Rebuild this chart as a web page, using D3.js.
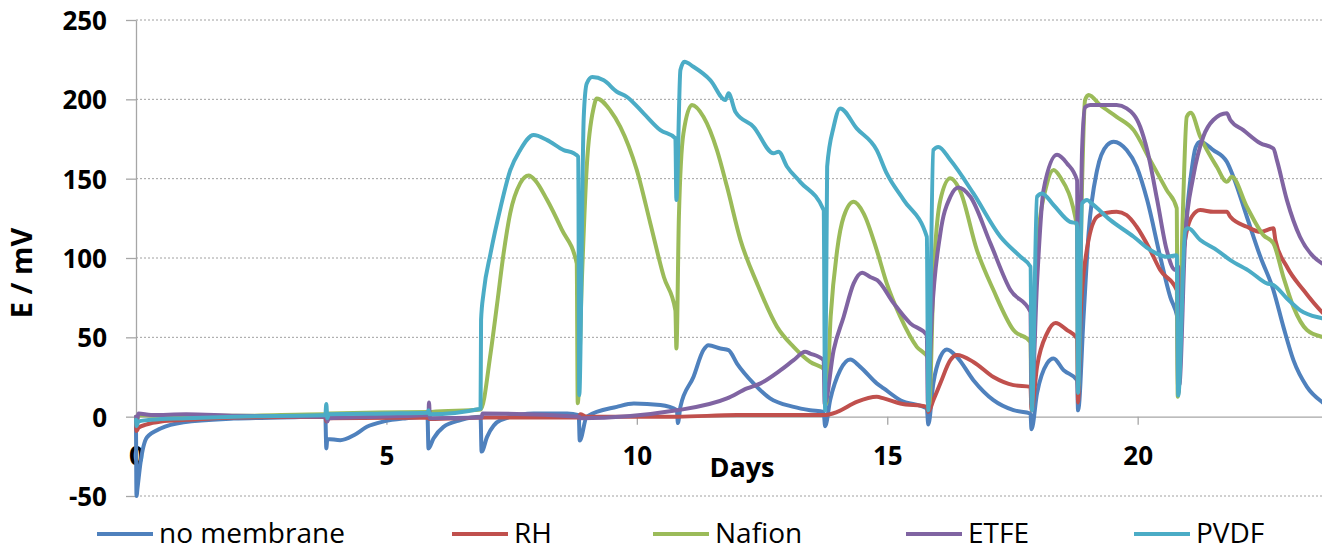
<!DOCTYPE html>
<html>
<head>
<meta charset="utf-8">
<script src="https://cdn.jsdelivr.net/npm/d3@7"></script>
<style>
body { margin: 0; background: #fff; }
svg { display: block; font-family: "Open Sans", sans-serif; }
</style>
</head>
<body>
<svg id="chart" width="1322" height="550"></svg>
<script>
// [day, E in mV]
const noMembrane = [[0,-2],[0.01,-50],[0.03,-45],[0.09,-29],[0.22,-13],[0.49,-7.5],[0.95,-3.5],[1.95,-1.2],[3.28,-0.2],[3.78,0.5],[3.8,-20],[3.82,-14],[4.08,-14.8],[4.35,-11.7],[4.61,-6.4],[4.95,-3],[5.4,-1],[5.82,0],[5.84,-20],[5.94,-13.7],[6.14,-6.4],[6.48,-2.2],[6.88,-0.1],[6.9,-22],[7.01,-12.7],[7.28,-2.2],[7.94,2],[8.61,2],[8.84,1],[8.86,-15],[9.0,0],[9.6,6.2],[9.94,8.3],[10.47,7.3],[10.8,4.1],[10.82,-4],[10.87,6.2],[11.13,25],[11.33,42],[11.43,45],[11.67,43],[11.83,42],[12.0,33.5],[12.33,21],[12.66,11.5],[13.13,6.2],[13.46,4.1],[13.73,3],[13.76,-6],[13.86,10.4],[14.06,29.3],[14.26,36],[14.46,31.4],[14.79,21],[14.93,17.8],[15.26,10.4],[15.79,5.2],[15.82,-5],[15.92,21],[16.06,37.7],[16.19,42.4],[16.39,37.7],[16.72,23],[17.12,10.4],[17.52,4.1],[17.86,2],[17.88,-8],[17.99,14.6],[18.19,33.5],[18.32,36.7],[18.52,29.3],[18.79,23],[18.81,4],[18.92,63],[19.02,115.5],[19.19,155.4],[19.39,171.2],[19.52,173.3],[19.78,168],[19.98,157.5],[20.19,136.5],[20.45,100.8],[20.65,75.5],[20.79,63],[20.82,58],[20.92,105],[21.06,151.2],[21.16,170],[21.25,173.3],[21.51,168],[21.78,160.6],[21.91,151.2],[22.18,126],[22.45,100.8],[22.71,79.8],[22.91,56.6],[23.11,35.6],[23.38,18.8],[23.68,9.3],[24,4]]
const rh = [[0,-1],[0.01,-9],[0.05,-7],[0.2,-5],[0.5,-3],[1,-2],[2,-0.5],[3.78,0],[3.8,-3],[3.85,-1],[5.84,-0.5],[5.86,-1.5],[7,-0.5],[8.85,-0.5],[8.87,1.5],[9,0],[10.8,0],[12,1],[13.26,1],[13.73,1],[14.0,3],[14.39,9.3],[14.79,12.5],[14.93,11.5],[15.26,8.3],[15.79,6.2],[15.82,3],[15.92,10.4],[16.06,21],[16.26,35.6],[16.39,38.8],[16.72,34.5],[17.12,25],[17.52,19.9],[17.86,18.8],[17.88,4],[17.99,31.4],[18.19,52.5],[18.36,59.1],[18.59,54.6],[18.79,49.3],[18.81,9],[18.86,63],[18.96,100],[19.19,126],[19.39,128.5],[19.58,129.1],[19.78,127],[19.98,119.7],[20.25,105],[20.45,92.4],[20.78,79.8],[20.81,15],[20.92,105],[21.08,126],[21.25,130.2],[21.51,129.1],[21.78,129.1],[21.85,126],[22.18,119.7],[22.45,116.5],[22.71,118.7],[22.75,111.3],[22.98,94.5],[23.31,79.8],[23.68,66],[24,58]]
const nafion = [[0,0],[0.02,-3],[0.05,1],[0.5,0.5],[2,0.5],[3.8,1.5],[3.82,-1],[3.85,2],[5.84,3],[5.86,1],[5.9,3],[6.88,4.5],[7.08,40],[7.21,71],[7.34,103],[7.47,128],[7.67,147],[7.84,152],[7.97,149],[8.21,136.5],[8.5,118],[8.8,96.6],[8.82,8.5],[8.9,84],[9.0,157.5],[9.14,195],[9.2,200.6],[9.47,193],[9.67,182.7],[10.0,155.4],[10.27,121.8],[10.54,88],[10.77,67],[10.79,43],[10.84,126],[10.93,178.5],[11.1,196.4],[11.33,189],[11.6,168],[11.8,145],[12.07,111.3],[12.4,84],[12.8,56.6],[13.13,44],[13.46,34.5],[13.76,29.3],[13.78,8],[13.87,63],[14.0,105],[14.13,126],[14.33,135.4],[14.53,128],[14.79,105],[14.99,84],[15.26,63],[15.59,44],[15.82,36.7],[15.84,8],[15.92,84],[16.06,136.5],[16.26,150.2],[16.45,142.8],[16.79,105],[17.12,79.8],[17.52,54.6],[17.86,47],[17.88,8],[17.99,105],[18.19,147],[18.32,155.4],[18.45,151.2],[18.79,119.7],[18.81,19],[18.89,147],[18.95,199.6],[19.02,202.7],[19.25,196.4],[19.58,189],[19.92,180.6],[20.25,161.7],[20.58,142.8],[20.78,131.3],[20.8,12.5],[20.9,126],[20.98,189],[21.06,191.5],[21.25,176.4],[21.58,157.5],[21.78,148],[21.88,151.2],[22.18,132.3],[22.51,114.4],[22.71,109.2],[22.91,88],[23.11,69.2],[23.38,54.6],[23.68,50.3],[24,49]]
const etfe = [[0,0],[0.02,-2],[0.05,2],[0.3,1],[1,1.5],[2,0.5],[3.8,0],[3.82,-3],[3.85,-1],[5.84,1],[5.85,9],[5.87,-1],[6.9,-0.5],[6.92,2],[8.85,0],[8.87,-1],[10.8,4],[11.8,11.5],[12.2,17.8],[12.47,21],[12.87,29.3],[13.13,35.6],[13.36,40.9],[13.46,39.8],[13.73,35.6],[13.75,8],[13.93,42],[14.13,63],[14.33,84],[14.5,90.7],[14.66,88],[14.8,86],[15.13,71.4],[15.46,58.8],[15.79,51.4],[15.81,8],[15.89,63],[16.06,115.5],[16.26,138.6],[16.42,144.5],[16.66,138.6],[17.06,109.2],[17.46,79.8],[17.86,66],[17.88,8],[17.99,84],[18.12,142.8],[18.39,165],[18.59,159.6],[18.79,149],[18.81,20],[18.89,168],[18.95,195],[19.05,196.4],[19.58,196.4],[19.78,194.3],[20.05,182.7],[20.19,168],[20.39,136.5],[20.58,105],[20.75,92.4],[20.81,94.5],[20.83,20],[20.95,113.4],[21.11,151.2],[21.31,176.4],[21.51,187],[21.78,191.2],[21.85,187],[22.11,180.6],[22.45,172.3],[22.71,169],[22.78,161.7],[22.98,136.5],[23.24,113.4],[23.51,100.8],[23.68,96.6],[24,93]]
const pvdf = [[0,-2],[0.01,-6],[0.05,-3],[0.3,-2],[1,-1],[2,0],[3.78,1],[3.8,8],[3.82,-1],[3.85,1.5],[5.0,2],[5.82,2.5],[5.84,4],[5.86,1.5],[6.88,5],[6.89,61],[6.94,78],[7.08,103],[7.28,132],[7.47,155],[7.67,168],[7.94,177.5],[8.21,174.3],[8.54,168],[8.74,166],[8.83,163.8],[8.85,13.5],[8.94,189],[9.0,210],[9.11,214],[9.34,212],[9.6,204.8],[9.8,201.6],[10.14,191],[10.47,180.6],[10.77,175.4],[10.79,136.5],[10.87,218.5],[10.95,223.7],[11.13,220.5],[11.47,212],[11.77,199.6],[11.83,203.8],[11.97,192],[12.33,182.7],[12.73,166],[12.83,167],[13.0,157.5],[13.26,148],[13.73,130.2],[13.76,4],[13.8,157.5],[13.93,182.7],[14.06,194.3],[14.39,181.7],[14.79,168],[14.99,153.3],[15.33,136.5],[15.79,113.4],[15.82,4],[15.92,168],[16.02,170],[16.26,161.7],[16.72,140.7],[17.26,113.4],[17.66,100.8],[17.86,94.5],[17.89,4],[17.99,138.6],[18.09,140.7],[18.32,133.4],[18.65,122.8],[18.79,121.8],[18.81,15],[18.89,134.4],[18.99,136.5],[19.08,134.4],[19.45,124],[19.92,113.4],[20.25,105],[20.58,100.8],[20.78,101.8],[20.81,13.5],[20.95,117.6],[21.01,118.7],[21.25,111.3],[21.58,105],[21.85,98.7],[22.25,91.3],[22.58,84],[22.71,83],[22.98,74.5],[23.24,67.2],[23.68,62],[24,60]]

const seriesNames = ["no membrane", "RH", "Nafion", "ETFE", "PVDF"]
const seriesData = [noMembrane, rh, nafion, etfe, pvdf]
const seriesColors = ["#4F81BD", "#C0504D", "#9BBB59", "#8064A2", "#4BACC6"]
const xTicks = [0, 5, 10, 15, 20]
const yTicks = [-50, 0, 50, 100, 150, 200, 250]

const svg = d3.select("#chart")
const xScale = d3.scaleLinear().domain([0, 24]).range([136, 1338])
const yScale = d3.scaleLinear().domain([-50, 250]).range([496, 20])
const axisColor = "#a6a6a6"

// dotted gridlines
svg.append("g")
	.selectAll("line")
	.data(yTicks.filter(d => d !== 0))
	.enter().append("line")
		.attr("x1", xScale(0))
		.attr("x2", 1322)
		.attr("y1", d => yScale(d))
		.attr("y2", d => yScale(d))
		.attr("stroke", "#a0a0a0")
		.attr("stroke-width", 1)
		.attr("stroke-dasharray", "2,2")

const yAxis = svg.append("g")
	.attr("transform", `translate(${xScale(0)}, 0)`)
	.call(d3.axisLeft(yScale).tickValues(yTicks).tickFormat(d => String(d)).tickSize(10).tickSizeOuter(0).tickPadding(19))
const xAxis = svg.append("g")
	.attr("transform", `translate(0, ${yScale(0)})`)
	.call(d3.axisBottom(xScale).tickValues(xTicks).tickFormat(d => String(d)).tickSize(8).tickSizeOuter(0).tickPadding(22))

for (const axis of [yAxis, xAxis]) {
	axis.select(".domain").attr("stroke", axisColor).attr("stroke-width", 1.3)
	axis.selectAll(".tick line").attr("stroke", axisColor).attr("stroke-width", 1.3)
	axis.selectAll(".tick text")
		.attr("fill", "#000")
		.attr("font-family", "Open Sans")
		.attr("font-weight", "bold")
		.attr("font-size", 26)
}
yAxis.selectAll(".tick text").attr("dy", "0.36em")

const line = d3.line()
	.x(d => xScale(d[0]))
	.y(d => yScale(d[1]))
	.curve(d3.curveMonotoneX)

svg.append("g")
	.selectAll("path")
	.data(seriesData)
	.enter().append("path")
		.attr("d", d => line(d))
		.attr("fill", "none")
		.attr("stroke", (d, i) => seriesColors[i])
		.attr("stroke-width", 4)
		.attr("stroke-linejoin", "round")
		.attr("stroke-linecap", "round")

svg.append("text")
	.attr("x", 742)
	.attr("y", 477)
	.attr("text-anchor", "middle")
	.attr("font-weight", "bold")
	.attr("font-size", 27)
	.text("Days")

svg.append("text")
	.attr("transform", "translate(32, 273) rotate(-90)")
	.attr("text-anchor", "middle")
	.attr("font-weight", "bold")
	.attr("font-size", 29)
	.text("E / mV")

const legendX = [97, 452, 653, 906, 1134]
const legend = svg.append("g")
	.selectAll("g")
	.data(seriesNames)
	.enter().append("g")
		.attr("transform", (d, i) => `translate(${legendX[i]}, 534)`)
legend.append("line")
	.attr("x1", 0)
	.attr("x2", 56)
	.attr("stroke", (d, i) => seriesColors[i])
	.attr("stroke-width", 4)
legend.append("text")
	.attr("x", 62)
	.attr("y", 9)
	.attr("font-size", 28)
	.text(d => d)
</script>
</body>
</html>
